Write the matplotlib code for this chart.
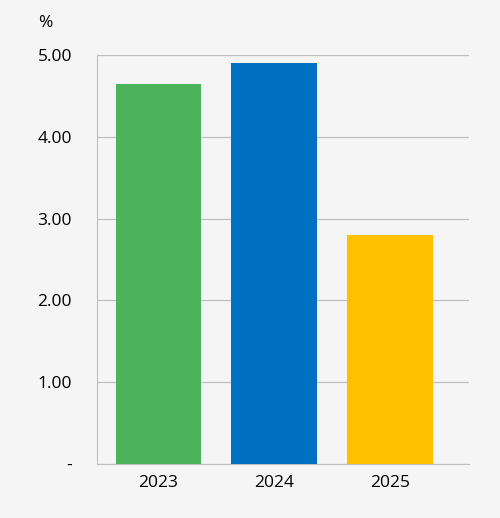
import matplotlib
matplotlib.use("Agg")
import matplotlib.pyplot as plt

years = ["2023", "2024", "2025"]
values = [4.65, 4.90, 2.80]
colors = ["#4CB35A", "#0070C0", "#FFC000"]
yticks = [0, 1, 2, 3, 4, 5]
ylabels = ["-", "1.00", "2.00", "3.00", "4.00", "5.00"]

plt.rcParams['font.family'] = ['Open Sans', 'DejaVu Sans']
fig = plt.figure(figsize=(5.0, 5.18), dpi=100, facecolor="#F5F5F5")
ax = fig.add_axes([0.194, 0.104, 0.744, 0.79], facecolor="#F5F5F5")
x = range(len(years))
ax.bar(x, values, width=0.74, color=colors, zorder=3)
ax.set_xlim(-0.53, 2.68)
ax.set_ylim(0, 5)
ax.set_yticks(yticks)
ax.set_yticklabels(ylabels, fontsize=12.5)
ax.set_xticks(list(x))
ax.set_xticklabels(years, fontsize=12.5)
ax.grid(axis="y", color="#BFBFBF", linewidth=0.9, zorder=0)
for s in ["top", "right"]:
    ax.spines[s].set_visible(False)
ax.spines["left"].set_color("#BFBFBF")
ax.spines["bottom"].set_color("#BFBFBF")
ax.tick_params(axis="y", length=0, pad=18)
ax.tick_params(axis="x", length=0, pad=8)
fig.text(0.09, 0.955, "%", fontsize=12.5, ha="center", va="center")
fig.savefig("out.png", dpi=100, facecolor=fig.get_facecolor())
